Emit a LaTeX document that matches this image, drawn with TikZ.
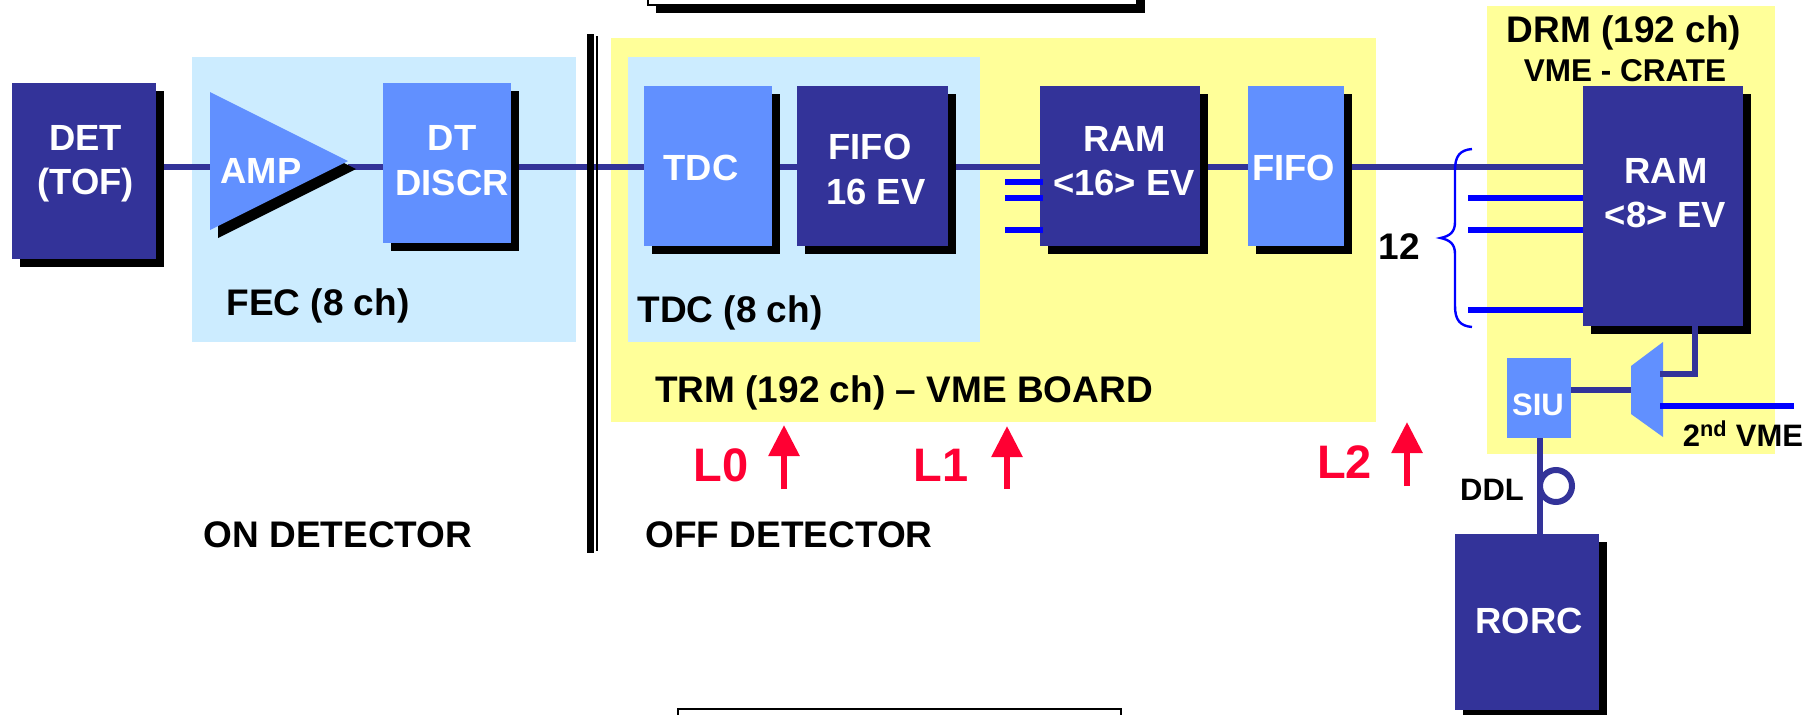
\documentclass[tikz,border=0pt]{standalone}
\usepackage{fontspec}
\setmainfont{Liberation Sans}
\usetikzlibrary{shadows,arrows.meta}
\pgfdeclarelayer{panels}
\pgfdeclarelayer{wires}
\pgfsetlayers{panels,wires,main}
\definecolor{navy}{HTML}{333399}
\definecolor{sky}{HTML}{6190FF}
\definecolor{pale}{HTML}{CCECFF}
\definecolor{butter}{HTML}{FFFF99}
\definecolor{signal}{HTML}{0000FF}
\definecolor{trig}{HTML}{FF0033}
\newcommand{\fsz}[1]{\bfseries\fontsize{#1}{#1}\selectfont}
\tikzset{
  x=1pt,y=-1pt,
  sh/.style={drop shadow={shadow xshift=8pt,shadow yshift=-8pt,fill=black,opacity=1}},
  box/.style={rectangle,draw=none,inner sep=0pt,outer sep=0pt,sh},
  darkbox/.style={box,fill=navy},
  lightbox/.style={box,fill=sky},
  panel/.style={rectangle,draw=none,inner sep=0pt,outer sep=0pt},
  txt/.style={anchor=base,inner sep=0pt,outer sep=0pt,font=\fsz{37}},
  wtxt/.style={txt,text=white,font=\fsz{36.4}},
  redtxt/.style={txt,text=trig,font=\fsz{47}},
  wire/.style={draw=navy,line width=6pt},
  sig/.style={draw=signal,line width=6pt},
  trigarrow/.style={draw=trig,line width=6pt,-{Triangle[length=31pt,width=30pt]}},
  sep/.style={draw=black},
  frame/.style={rectangle,draw=black,line width=2pt,fill=white,inner sep=0pt}
}
\begin{document}
\begin{tikzpicture}
\useasboundingbox (0,0) rectangle (1816,715);

% panels
\begin{pgfonlayer}{panels}
\fill[white] (0,0) rectangle (1816,715);
\node[panel,fill=pale,minimum width=384pt,minimum height=285pt] (fec) at (384,199.5) {};
\node[panel,fill=butter,minimum width=765pt,minimum height=384pt] (trm) at (993.5,230) {};
\node[panel,fill=pale,minimum width=352pt,minimum height=285pt] (tdcp) at (804,199.5) {};
\node[panel,fill=butter,minimum width=288pt,minimum height=448pt] (drm) at (1631,230) {};
\end{pgfonlayer}

% cut-off frames
\node[frame,sh,minimum width=489pt,minimum height=40pt] (topframe) at (892.5,-15) {};
\node[frame,minimum width=443pt,minimum height=40pt] (botframe) at (899.5,729) {};

% blocks
\node[darkbox,minimum width=144pt,minimum height=176pt] (det) at (84,171) {};
\coordinate (ampa) at (210,92);
\coordinate (amptip) at (348,161);
\coordinate (ampb) at (210,230);
\fill[sky,sh] (ampa) -- (amptip) -- (ampb) -- cycle;
\node[lightbox,minimum width=128pt,minimum height=160pt] (dt) at (447,163) {};
\node[lightbox,minimum width=128pt,minimum height=160pt] (tdc) at (708,166) {};
\node[darkbox,minimum width=151pt,minimum height=160pt] (fifoa) at (872.5,166) {};
\node[darkbox,minimum width=160pt,minimum height=160pt] (rama) at (1120,166) {};
\node[lightbox,minimum width=96pt,minimum height=160pt] (fifob) at (1296,166) {};
\node[darkbox,minimum width=160pt,minimum height=240pt] (ramb) at (1663,206) {};
\node[rectangle,fill=sky,inner sep=0pt,outer sep=0pt,minimum width=64pt,minimum height=80pt] (siu) at (1539,398) {};
\coordinate (muxa) at (1631,366);
\coordinate (muxb) at (1663,342);
\coordinate (muxc) at (1663,437);
\coordinate (muxd) at (1631,414);
\fill[sky] (muxa) -- (muxb) -- (muxc) -- (muxd) -- cycle;
\node[darkbox,minimum width=144pt,minimum height=176pt] (rorc) at (1527,622) {};

% connector reference levels
\coordinate (mainy) at (0,166.5);
\coordinate (siuy) at (0,390);
\coordinate (ddlx) at (1540,0);

% connectors behind blocks
\begin{pgfonlayer}{wires}
\draw[wire] (det.east |- mainy) -- (ampa |- mainy);
\draw[wire] (amptip |- mainy) -- (dt.west |- mainy);
\draw[wire] (dt.east |- mainy) -- (tdc.west |- mainy);
\draw[wire] (tdc.east |- mainy) -- (fifoa.west |- mainy);
\draw[wire] (fifoa.east |- mainy) -- (rama.west |- mainy);
\draw[wire] (rama.east |- mainy) -- (fifob.west |- mainy);
\draw[wire] (fifob.east |- mainy) -- (ramb.west |- mainy);
\draw[wire] (siu.east |- siuy) -- (muxa |- siuy);
\draw[wire] (siu.south -| ddlx) -- (rorc.north -| ddlx);
\end{pgfonlayer}

% double separator
\coordinate (sepAt) at (590,34);
\coordinate (sepAb) at (590,553);
\coordinate (sepBt) at (597,36);
\coordinate (sepBb) at (597,551);
\draw[sep,line width=7pt] (sepAt) -- (sepAb);
\draw[sep,line width=2pt] (sepBt) -- (sepBb);

% connectors in front
\coordinate (bus1) at (1005,182);
\coordinate (bus2) at (1005,198);
\coordinate (bus3) at (1005,230);
\draw[sig] (bus1) -- ([xshift=3pt]rama.west |- bus1);
\draw[sig] (bus2) -- ([xshift=3pt]rama.west |- bus2);
\draw[sig] (bus3) -- ([xshift=3pt]rama.west |- bus3);
\coordinate (busb1) at (1468,198);
\coordinate (busb2) at (1468,230);
\coordinate (busb3) at (1468,310);
\draw[sig] (busb1) -- (ramb.west |- busb1);
\draw[sig] (busb2) -- (ramb.west |- busb2);
\draw[sig] (busb3) -- (ramb.west |- busb3);
\coordinate (muxup) at (1695,374);
\coordinate (muxin) at (1660,374);
\draw[wire,line join=miter] (ramb.south -| muxup) -- (muxup) -- (muxin);
\coordinate (vmein) at (1660,406);
\coordinate (vmeend) at (1794,406);
\draw[sig] (vmein) -- (vmeend);

% brace
\coordinate (bt) at (1472,149);
\coordinate (btip) at (1440.5,238);
\coordinate (bb) at (1472,327);
\draw[signal,line width=2.4pt]
  (bt) .. controls (1460,150) and (1455,156) .. (1455,170)
  -- (1455,222) .. controls (1455,232) and (1450,236) .. (btip)
  .. controls (1450,240) and (1455,244) .. (1455,254)
  -- (1455,306) .. controls (1455,320) and (1460,326) .. (bb);

% DDL loop
\node[circle,draw=navy,line width=6pt,fill=none,minimum size=32pt,inner sep=0pt] (ddlloop) at (1556,486) {};

% triggers
\coordinate (l0b) at (784,489);
\coordinate (l0t) at (784,425);
\coordinate (l1b) at (1007,489);
\coordinate (l1t) at (1007,426);
\coordinate (l2b) at (1407,486);
\coordinate (l2t) at (1407,422);
\draw[trigarrow] (l0b) -- (l0t);
\draw[trigarrow] (l1b) -- (l1t);
\draw[trigarrow] (l2b) -- (l2t);

% labels
\node[wtxt] (tdet) at (85.5,150) {DET};
\node[wtxt] (ttof) at (85.5,194) {(TOF)};
\node[wtxt] (tamp) at (261,183) {AMP};
\node[wtxt] (tdt) at (452,150) {DT};
\node[wtxt] (tdiscr) at (452,195) {DISCR};
\node[wtxt] (ttdc) at (701,180) {TDC};
\node[wtxt] (tfifoa) at (870,159) {FIFO};
\node[wtxt] (tsix) at (876,204) {16 EV};
\node[wtxt] (tram) at (1124.5,151) {RAM};
\node[wtxt] (tramev) at (1124,195) {<16> EV};
\node[wtxt] (tfifob) at (1293.5,180) {FIFO};
\node[wtxt] (tramb) at (1666,183) {RAM};
\node[wtxt] (trambev) at (1665.5,227) {<8> EV};
\node[wtxt,font=\fsz{31}] (tsiu) at (1538,415) {SIU};
\node[wtxt] (trorc) at (1529,633) {RORC};

\node[txt] (tfec) at (318,315) {FEC (8 ch)};
\node[txt] (ttdcp) at (730,322) {TDC (8 ch)};
\node[txt] (ttrm) at (904,402) {TRM (192 ch) – VME BOARD};
\node[txt] (tdrm) at (1624,42) {DRM (192 ch)};
\node[txt,font=\fsz{31.5}] (tcrate) at (1625,81) {VME - CRATE};
\node[txt] (ttwelve) at (1399,259) {12};
\node[txt,font=\fsz{31}] (tddl) at (1492,500) {DDL};
\node[txt,font=\fsz{31}] (tvme) at (1743,446) {2\textsuperscript{nd} VME};
\node[txt] (ton) at (338,547) {ON DETECTOR};
\node[txt] (toff) at (789,547) {OFF DETECTOR};
\node[redtxt] (tl0) at (721,481) {L0};
\node[redtxt] (tl1) at (941,481) {L1};
\node[redtxt] (tl2) at (1344.5,478) {L2};
\end{tikzpicture}
\end{document}
